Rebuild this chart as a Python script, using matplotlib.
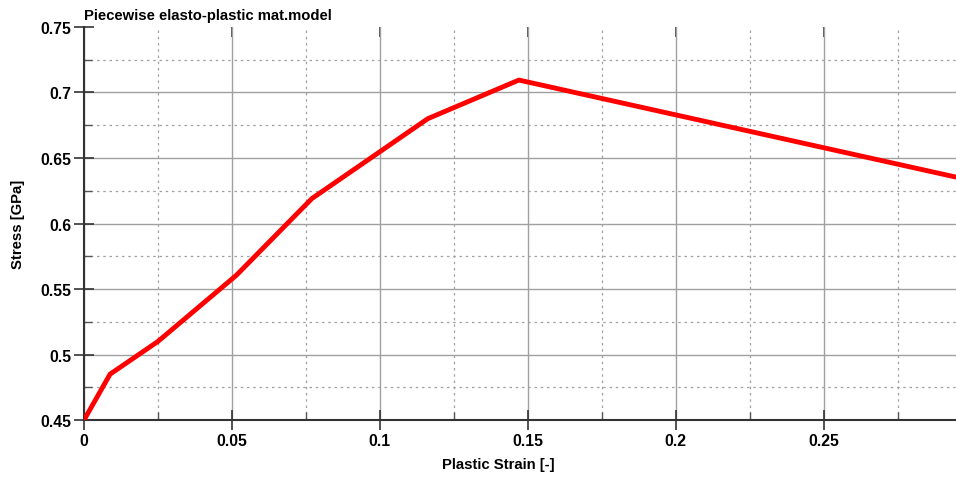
import matplotlib
matplotlib.use('Agg')
import matplotlib.pyplot as plt
from matplotlib.ticker import MultipleLocator

# strain / stress readings from the curve
strain = [0.0, 0.0088, 0.025, 0.0515, 0.077, 0.1162, 0.147, 0.2946]
stress = [0.45, 0.485, 0.510, 0.5605, 0.619, 0.680, 0.7095, 0.6355]

x_ticks = [0, 0.05, 0.1, 0.15, 0.2, 0.25]
x_labels = ['0', '0.05', '0.1', '0.15', '0.2', '0.25']
y_ticks = [0.45, 0.5, 0.55, 0.6, 0.65, 0.7, 0.75]
y_labels = ['0.45', '0.5', '0.55', '0.6', '0.65', '0.7', '0.75']

plt.rcParams['font.family'] = ['Liberation Sans', 'DejaVu Sans']
plt.rcParams['font.weight'] = 'bold'

fig = plt.figure(figsize=(9.56, 4.81), dpi=100)
ax = fig.add_axes([0.0879, 0.1247, 0.9116, 0.8171])

ax.plot(strain, stress, color='#ff0000', linewidth=3.5, solid_capstyle='round', zorder=5)

ax.set_xlim(0, 0.2946)
ax.set_ylim(0.45, 0.75)
ax.xaxis.set_minor_locator(MultipleLocator(0.025))
ax.yaxis.set_minor_locator(MultipleLocator(0.025))
ax.set_xticks(x_ticks)
ax.set_xticklabels(x_labels)
ax.set_yticks(y_ticks)
ax.set_yticklabels(y_labels)

ax.grid(which='major', color='#a0a0a0', linewidth=1.0, linestyle='-')
ax.grid(which='minor', color='#a0a0a0', linewidth=0.9, linestyle=(0, (2, 3)))
# no grid line along the top border
ax.yaxis.get_major_ticks()[-1].gridline.set_visible(False)

for side in ['top', 'right']:
    ax.spines[side].set_visible(False)
for side in ['left', 'bottom']:
    ax.spines[side].set_color('#333333')
    ax.spines[side].set_linewidth(1.5)

ax.tick_params(which='major', direction='inout', length=14, width=1.2, colors='#333333',
               labelsize=11.3, labelcolor='black', pad=2)
ax.tick_params(which='minor', direction='in', length=6, width=1.0, colors='#555555')

top = ax.secondary_xaxis('top')
top.set_xticks(x_ticks)
top.tick_params(direction='in', length=7, width=1.2, colors='#333333', labeltop=False)
top.spines['top'].set_visible(False)

ax.set_xlabel('Plastic Strain [-]', fontsize=10.7, fontweight='bold')
ax.xaxis.set_label_coords(0.475, -0.095)
ax.set_ylabel('Stress [GPa]', fontsize=10.7, fontweight='bold', labelpad=11)
ax.set_title('Piecewise elasto-plastic mat.model', loc='left', fontsize=10.7,
             fontweight='bold', pad=6)

fig.savefig('out.png', dpi=100)
